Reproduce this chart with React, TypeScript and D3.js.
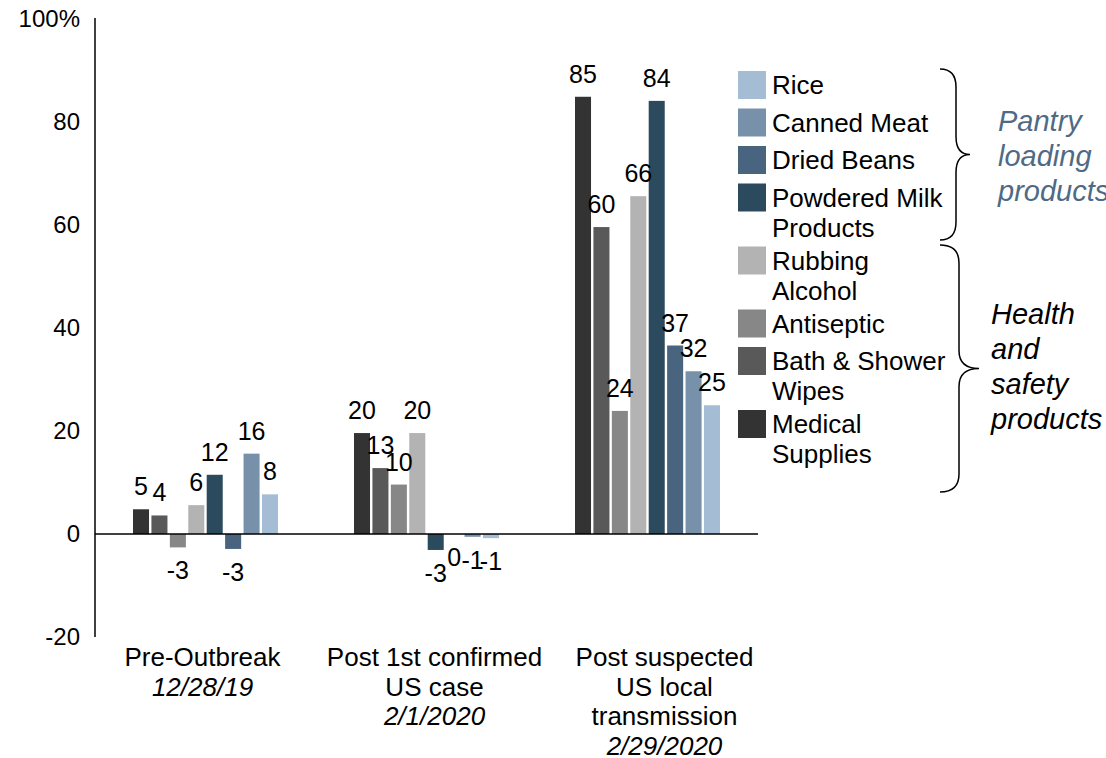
import React, { useEffect, useRef } from 'react';
import * as d3 from 'd3';

// bar order inside each group (left to right)
const series = [
  'Medical Supplies',
  'Bath & Shower Wipes',
  'Antiseptic',
  'Rubbing Alcohol',
  'Powdered Milk Products',
  'Dried Beans',
  'Canned Meat',
  'Rice',
];
const seriesColors = ['#333333', '#595959', '#878787', '#b3b3b3', '#2c4a5e', '#48647e', '#7791aa', '#a4bcd4'];

const periods = ['Pre-Outbreak', 'Post 1st confirmed', 'Post suspected'];
const periodLines = [
  ['Pre-Outbreak'],
  ['Post 1st confirmed', 'US case'],
  ['Post suspected', 'US local', 'transmission'],
];
const periodDates = ['12/28/19', '2/1/2020', '2/29/2020'];

// % change per period, in series order
const preOutbreak = [4.8, 3.6, -2.6, 5.6, 11.5, -2.9, 15.6, 7.7];
const postFirstCase = [19.6, 12.8, 9.6, 19.6, -3.1, 0, -0.55, -0.8];
const postLocal = [84.9, 59.6, 23.9, 65.6, 84.1, 36.6, 31.6, 25.0];
const values = [preOutbreak, postFirstCase, postLocal];

const yTicks = [-20, 0, 20, 40, 60, 80, 100];

// legend (top to bottom) with its line breaks
const legendOrder = ['Rice', 'Canned Meat', 'Dried Beans', 'Powdered Milk Products', 'Rubbing Alcohol', 'Antiseptic', 'Bath & Shower Wipes', 'Medical Supplies'];
const legendLines = [['Rice'], ['Canned Meat'], ['Dried Beans'], ['Powdered Milk', 'Products'], ['Rubbing', 'Alcohol'], ['Antiseptic'], ['Bath & Shower', 'Wipes'], ['Medical', 'Supplies']];

const groupTitles = [
  { lines: ['Pantry', 'loading', 'products'], color: '#4f6a85' },
  { lines: ['Health', 'and', 'safety', 'products'], color: '#000000' },
];

const FONT = '"Liberation Sans", Arial, sans-serif';

const fmt = (v: number) => {
  const r = Math.sign(v) * Math.round(Math.abs(v));
  return r === 0 ? '0' : String(r);
};

const App = () => {
  const svgRef = useRef<SVGSVGElement>(null);

  useEffect(() => {
    document.body.style.margin = '0';
    const width = 1106;
    const height = 758;

    d3.select(svgRef.current).selectAll('*').remove();
    const svg = d3.select(svgRef.current)
      .attr('width', width)
      .attr('height', height)
      .style('font-family', FONT);

    // scales
    const y = d3.scaleLinear().domain([-20, 100]).range([637, 19]);
    const x0 = d3.scaleBand().domain(periods).range([95, 758]).padding(0);
    const groupW = 145;
    const x1 = d3.scaleBand().domain(series).range([0, groupW]).paddingInner(0.13).paddingOuter(0);
    const color = d3.scaleOrdinal<string, string>().domain(series).range(seriesColors);
    const groupStart = (p: string) => (x0(p) as number) + (x0.bandwidth() - groupW) / 2;

    // y axis
    svg.append('line')
      .attr('x1', 95).attr('x2', 95)
      .attr('y1', y(100) - 1).attr('y2', y(-20))
      .attr('stroke', '#000').attr('stroke-width', 1.5);

    svg.append('g')
      .selectAll('text')
      .data(yTicks)
      .enter()
      .append('text')
      .attr('x', 80)
      .attr('y', d => y(d))
      .attr('dy', '0.35em')
      .attr('text-anchor', 'end')
      .style('font-size', '24px')
      .text(d => (d === 100 ? '100%' : String(d)));

    // bars
    const rows = periods.flatMap((p, gi) => series.map((s, si) => ({ period: p, s, v: values[gi][si] })));

    svg.append('g')
      .selectAll('rect')
      .data(rows)
      .enter()
      .append('rect')
      .attr('x', d => groupStart(d.period) + (x1(d.s) as number))
      .attr('y', d => y(Math.max(0, d.v)))
      .attr('width', x1.bandwidth())
      .attr('height', d => Math.abs(y(d.v) - y(0)))
      .attr('fill', d => color(d.s));

    // zero line
    svg.append('line')
      .attr('x1', 95).attr('x2', 758)
      .attr('y1', y(0)).attr('y2', y(0))
      .attr('stroke', '#000').attr('stroke-width', 1.5);

    // value labels
    svg.append('g')
      .selectAll('text')
      .data(rows)
      .enter()
      .append('text')
      .attr('x', d => groupStart(d.period) + (x1(d.s) as number) + x1.bandwidth() / 2)
      .attr('y', d => (d.v > 0 ? y(d.v) - 14 : y(Math.min(0, d.v)) + 32))
      .attr('text-anchor', 'middle')
      .style('font-size', '25px')
      .text(d => fmt(d.v));

    // category labels
    const catDx = [-3, 8, 17];
    const cat = svg.append('g');
    periods.forEach((p, i) => {
      const cx = (x0(p) as number) + x0.bandwidth() / 2 + catDx[i];
      const lines = periodLines[i];
      lines.forEach((ln, j) => {
        cat.append('text')
          .attr('x', cx).attr('y', 666 + j * 29.5)
          .attr('text-anchor', 'middle')
          .style('font-size', '26px')
          .text(ln);
      });
      cat.append('text')
        .attr('x', cx).attr('y', 666 + lines.length * 29.5)
        .attr('text-anchor', 'middle')
        .style('font-size', '26px')
        .style('font-style', 'italic')
        .text(periodDates[i]);
    });

    // legend
    const legend = svg.append('g');
    let ly = 85;
    legendOrder.forEach((s, i) => {
      legend.append('rect')
        .attr('x', 738).attr('y', ly - 14)
        .attr('width', 28).attr('height', 28)
        .attr('fill', color(s));
      legendLines[i].forEach((ln, j) => {
        legend.append('text')
          .attr('x', 772).attr('y', ly + j * 30)
          .attr('dy', '0.35em')
          .style('font-size', '26px')
          .text(ln);
      });
      ly += 37.5 + (legendLines[i].length - 1) * 25.5;
    });

    // braces
    const brace = (bx: number, y0: number, y1: number, stem: number, tip: number) => {
      const ym = (y0 + y1) / 2;
      const r = 18;
      const p = d3.path();
      p.moveTo(bx, y0);
      p.quadraticCurveTo(stem, y0, stem, y0 + r);
      p.lineTo(stem, ym - r);
      p.quadraticCurveTo(stem, ym, tip, ym);
      p.quadraticCurveTo(stem, ym, stem, ym + r);
      p.lineTo(stem, y1 - r);
      p.quadraticCurveTo(stem, y1, bx, y1);
      return p.toString();
    };
    svg.append('path')
      .attr('d', brace(940, 69, 240, 956, 970))
      .attr('fill', 'none').attr('stroke', '#000').attr('stroke-width', 1.5);
    svg.append('path')
      .attr('d', brace(940, 245, 492, 959, 979))
      .attr('fill', 'none').attr('stroke', '#000').attr('stroke-width', 1.5);

    // bracket titles
    const titleX = [998, 991];
    const titleY = [121, 314];
    groupTitles.forEach((g, i) => {
      g.lines.forEach((ln, j) => {
        svg.append('text')
          .attr('x', titleX[i]).attr('y', titleY[i] + j * 35)
          .attr('dy', '0.35em')
          .style('font-size', '29px')
          .style('font-style', 'italic')
          .attr('fill', g.color)
          .text(ln);
      });
    });
  }, []);

  return (
    <>
      <svg ref={svgRef}></svg>
    </>
  );
};

export default App;
